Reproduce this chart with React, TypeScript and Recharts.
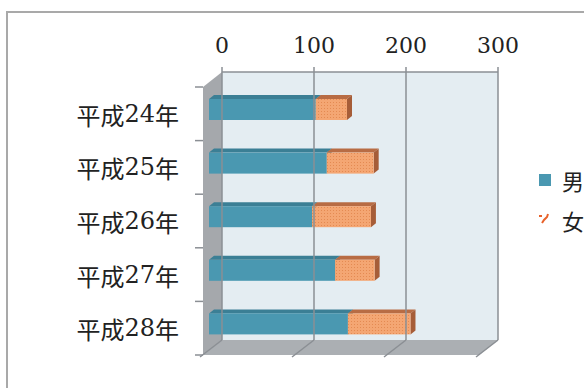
import React from 'react';
import { BarChart, Bar, XAxis, YAxis, ReferenceArea, ReferenceLine, Legend } from 'recharts';

const categories = ['平成24年', '平成25年', '平成26年', '平成27年', '平成28年'];
const male = [116, 128, 112, 137, 151];
const female = [34, 51, 64, 43, 68];
const xTicks = [0, 100, 200, 300];
const seriesOrder = ['男', '女'];

const data = categories.map((c, i) => ({ year: c, 男: male[i], 女: female[i] }));

// 3D look: back wall is the plot area, front plane is shifted down-left
const DX = -19;
const DY = 15;
const BAR_DX = -13;
const BAR_DY = 11;
const TOP_DX = 5;
const TOP_DY = -4;

const FONT = "'DejaVu Serif', 'Noto Sans CJK JP', serif";
const AXIS_GRAY = '#8b8f94';

const Walls = (props: any) => {
  const { x, y, width, height } = props;
  const band = height / categories.length;
  const marks = [];
  for (let i = 0; i <= categories.length; i++) {
    const yy = y + DY + band * i;
    marks.push(<line key={i} x1={x + DX - 8} y1={yy} x2={x + DX} y2={yy} stroke={AXIS_GRAY} strokeWidth={1.5} />);
  }
  return (
    <g>
      <rect x={x} y={y} width={width} height={height} fill="#e4edf2" />
      <polygon
        points={`${x},${y} ${x + DX},${y + DY} ${x + DX},${y + height + DY} ${x},${y + height}`}
        fill="#a5a8ac"
      />
      <polygon
        points={`${x},${y + height} ${x + width},${y + height} ${x + width + DX},${y + height + DY} ${x + DX},${y + height + DY}`}
        fill="#abafb3"
      />
      {marks}
    </g>
  );
};

const WallLine = (props: any) => {
  const { x1, y1, y2 } = props;
  return (
    <g>
      <line x1={x1} y1={y1} x2={x1} y2={y2} stroke={AXIS_GRAY} strokeWidth={1.5} />
      <line x1={x1} y1={y2} x2={x1 + DX - 3} y2={y2 + DY + 2} stroke={AXIS_GRAY} strokeWidth={1.5} />
    </g>
  );
};

const Bar3D = (props: any) => {
  const { x, y, width, height, fill, top, side } = props;
  if (!width || width <= 0) return null;
  const X = x + BAR_DX;
  const Y = y + BAR_DY;
  return (
    <g>
      <polygon
        points={`${X},${Y} ${X + TOP_DX},${Y + TOP_DY} ${X + width + TOP_DX},${Y + TOP_DY} ${X + width},${Y}`}
        fill={top}
      />
      <polygon
        points={`${X + width},${Y} ${X + width + TOP_DX},${Y + TOP_DY} ${X + width + TOP_DX},${Y + height + TOP_DY} ${X + width},${Y + height}`}
        fill={side}
      />
      <rect x={X} y={Y} width={width} height={height} fill={fill} />
    </g>
  );
};

const YearTick = (props: any) => {
  const { x, y, payload } = props;
  // digits in a serif face, kanji from the CJK font
  const parts = String(payload.value).split(/(\d+)/).filter((s) => s.length > 0);
  return (
    <text x={x + DX - 24} y={y + DY} textAnchor="end" dominantBaseline="central" fontSize={24} fontFamily={FONT} fill="#222">
      {parts.map((p, i) => (
        <tspan key={i} fontFamily={/\d/.test(p) ? "'DejaVu Serif', serif" : "'Noto Sans CJK JP', sans-serif"}>
          {p}
        </tspan>
      ))}
    </text>
  );
};

const LegendContent = (props: any) => {
  const items = [...(props.payload || [])].sort(
    (a: any, b: any) => seriesOrder.indexOf(a.value) - seriesOrder.indexOf(b.value)
  );
  return (
    <div style={{ fontFamily: FONT, fontSize: 22, color: '#222' }}>
      {items.map((it: any) => (
        <div key={it.value} style={{ display: 'flex', alignItems: 'center', height: 28, marginBottom: 12 }}>
          {it.value === '男' ? (
            <svg width={14} height={14} style={{ marginRight: 10 }}>
              <rect x={1} y={1} width={12} height={12} fill="#4a98b1" />
            </svg>
          ) : (
            <svg width={14} height={14} style={{ marginRight: 10 }}>
              <path d="M1,3 L4,3 M10,1 L9,4 L6,7 L4,10" stroke="#e8622a" strokeWidth={2} fill="none" />
            </svg>
          )}
          <span>{it.value}</span>
        </div>
      ))}
    </div>
  );
};

export default function App() {
  return (
    <div style={{ position: 'fixed', left: 0, top: 0, width: 584, height: 388, overflow: 'hidden', background: '#fff' }}>
      <svg width={0} height={0} style={{ position: 'absolute' }}>
        <defs>
          <pattern id="femaleDots" width={3} height={3} patternUnits="userSpaceOnUse">
            <rect width={3} height={3} fill="#f4a673" />
            <rect width={1} height={1} fill="#e48a52" />
          </pattern>
        </defs>
      </svg>
      <div
        style={{
          position: 'absolute',
          left: 6,
          top: 11,
          width: 600,
          height: 400,
          border: '2px solid #a9a9a9',
        }}
      />
      <div style={{ position: 'absolute', left: 0, top: 0 }}>
        <BarChart
          width={584}
          height={388}
          data={data}
          layout="vertical"
          margin={{ top: 42, right: 86, bottom: 48, left: 122 }}
          barSize={21}
        >
          <XAxis
            type="number"
            orientation="top"
            domain={[0, 300]}
            ticks={xTicks}
            height={30}
            axisLine={{ stroke: AXIS_GRAY, strokeWidth: 1.5 }}
            tickLine={{ stroke: AXIS_GRAY, strokeWidth: 1.5 }}
            tickSize={5}
            tickMargin={14}
            tick={{ fill: '#222', fontSize: 22, fontFamily: FONT }}
            interval={0}
          />
          <YAxis
            type="category"
            dataKey="year"
            width={100}
            axisLine={false}
            tickLine={false}
            tickSize={0}
            tickMargin={0}
            tick={<YearTick />}
            interval={0}
          />
          <ReferenceArea x1={0} x2={300} shape={<Walls />} />
          {xTicks.map((t) => (
            <ReferenceLine key={t} x={t} shape={<WallLine />} />
          ))}
          <Bar
            dataKey="男"
            name="男"
            stackId="a"
            fill="#4a98b1"
            isAnimationActive={false}
            shape={(p: any) => <Bar3D {...p} fill="#4a98b1" top="#3b7f95" side="#34768b" />}
          />
          <Bar
            dataKey="女"
            name="女"
            stackId="a"
            fill="#f4a673"
            isAnimationActive={false}
            shape={(p: any) => <Bar3D {...p} fill="url(#femaleDots)" top="#b86c44" side="#a65d38" />}
          />
          <Legend
            layout="vertical"
            align="center"
            verticalAlign="middle"
            content={<LegendContent />}
            wrapperStyle={{ position: 'absolute', left: 538, top: 166, width: 80 }}
          />
        </BarChart>
      </div>
    </div>
  );
}
